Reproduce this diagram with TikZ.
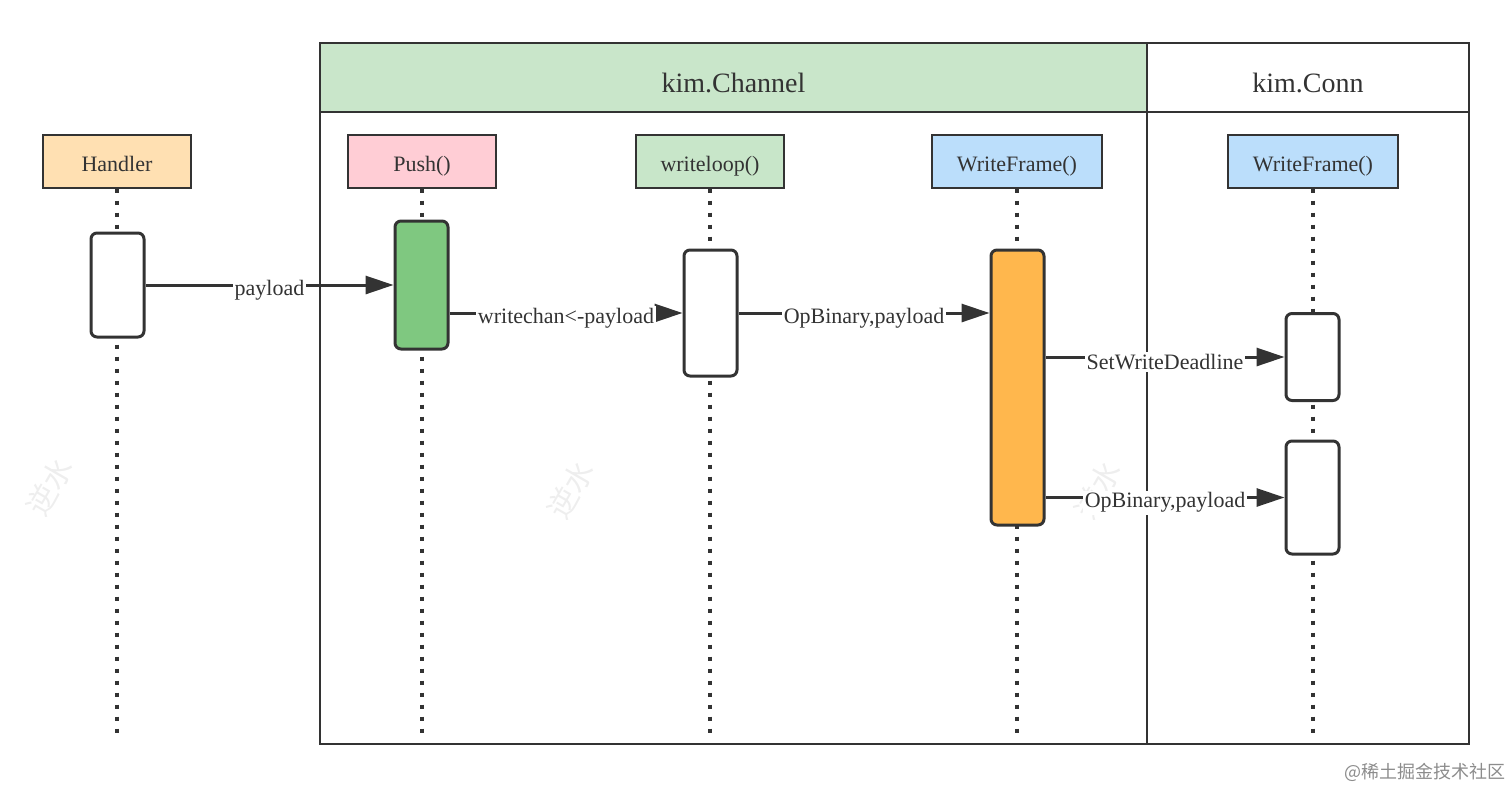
\documentclass[tikz,border=0pt]{standalone}
\usepackage{fontspec}
\setmainfont{Liberation Serif}
\newfontfamily\cjkfont{Noto Sans CJK SC}
\usetikzlibrary{arrows.meta}
\usetikzlibrary{positioning}

\definecolor{linecol}{HTML}{333333}
\definecolor{chanfill}{HTML}{C9E6CA}
\definecolor{handlerfill}{HTML}{FFE0B2}
\definecolor{pushfill}{HTML}{FFCDD5}
\definecolor{loopfill}{HTML}{C8E6C9}
\definecolor{framefill}{HTML}{BBDEFB}
\definecolor{pushact}{HTML}{7FC880}
\definecolor{frameact}{HTML}{FFB74D}
\definecolor{markcol}{HTML}{EEEEEE}

\tikzset{
  lane/.style={draw=linecol, line width=0.8pt},
  lanetitle/.style={font=\fontsize{14}{16}\selectfont, text=linecol},
  head/.style={draw=linecol, line width=0.7pt, minimum width=74pt, minimum height=26.5pt,
    inner sep=0pt, text depth=0pt, text height=10pt, font=\fontsize{11}{13}\selectfont, text=linecol},
  act/.style={draw=linecol, line width=1.5pt, rounded corners=3pt, fill=white,
    minimum width=26.5pt, inner sep=0pt},
  lifeline/.style={draw=linecol, line width=1.6pt, dash pattern=on 2pt off 4pt},
  msg/.style={draw=linecol, line width=1.5pt, -{Triangle[length=14pt,width=9pt]}},
  lbl/.style={fill=white, inner sep=1pt, yshift=-2.5pt, font=\fontsize{11}{13}\selectfont, text=linecol},
  watermark/.style={font=\cjkfont\fontsize{15}{17}\selectfont, text=markcol, rotate=60}
}

\begin{document}
\begin{tikzpicture}[x=0.5pt,y=-0.5pt]
  \useasboundingbox (0,0) rectangle (1512,788);

  % watermarks
  \node[watermark] (mark1) at (50,487) {逆水};
  \node[watermark] (mark2) at (571,490) {逆水};
  \node[watermark] (mark3) at (1098,490) {逆水};

  % swimlanes
  \fill[chanfill] (320,43) rectangle (1147,112);
  \draw[lane] (320,43) rectangle (1469,744);
  \draw[lane] (320,112) -- (1469,112);
  \draw[lane] (1147,43) -- (1147,744);
  \node[lanetitle] (chan) at (733.5,83) {kim.Channel};
  \node[lanetitle] (conn) at (1308,83) {kim.Conn};

  % lifeline heads
  \node[head, fill=handlerfill] (handler) at (117,161.5) {Handler};
  \node[head, fill=pushfill] (push) at (422,161.5) {Push()};
  \node[head, fill=loopfill] (loop) at (710,161.5) {writeloop()};
  \node[head, fill=framefill, minimum width=85pt] (chanwf) at (1017,161.5) {WriteFrame()};
  \node[head, fill=framefill, minimum width=85pt] (connwf) at (1313,161.5) {WriteFrame()};

  \foreach \n/\x in {handler/117,push/422,loop/710,chanwf/1017,connwf/1313} {
    \coordinate (\n end) at (\x,740);
    \draw[lifeline] (\n.south) -- (\n end);
  }

  % activations
  \node[act, minimum height=52pt] (handleract) at (117.5,285) {};
  \node[act, minimum height=64pt, fill=pushact] (pushact) at (421.5,285) {};
  \node[act, minimum height=63pt] (loopact) at (710.5,313) {};
  \node[act, minimum height=137.5pt, fill=frameact] (chanwfact) at (1017.5,387.5) {};
  \node[act, minimum height=43.5pt] (deadlineact) at (1312.5,357) {};
  \node[act, minimum height=56.5pt] (writeact) at (1312.5,497.5) {};

  % messages
  \draw[msg] (handleract.east) -- (pushact.west)
    node[lbl, midway] (m1) {payload};
  \draw[msg] (pushact.east |- loopact.west) -- (loopact.west)
    node[lbl, midway] (m2) {writechan<-payload};
  \draw[msg] (loopact.east) -- (loopact.east -| chanwfact.west)
    node[lbl, midway] (m3) {OpBinary,payload};
  \draw[msg] (chanwfact.east |- deadlineact.west) -- (deadlineact.west)
    node[lbl, midway] (m4) {SetWriteDeadline};
  \draw[msg] (chanwfact.east |- writeact.west) -- (writeact.west)
    node[lbl, midway] (m5) {OpBinary,payload};

  \node[font=\cjkfont\fontsize{9}{11}\selectfont, text=black!45] (site) at (1425,772) {@稀土掘金技术社区};
\end{tikzpicture}
\end{document}
